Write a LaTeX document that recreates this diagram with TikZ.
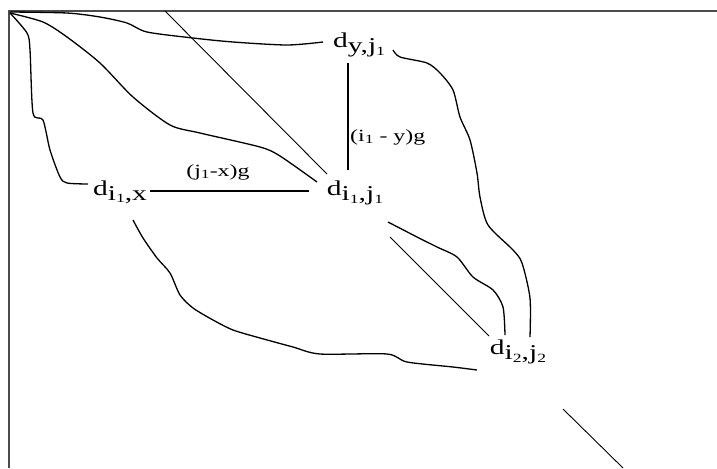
\documentclass[tikz,border=0pt]{standalone}
\usepackage{fontspec}
\setmainfont{Liberation Serif}
\usepackage{graphicx}
\usepackage{tikz}
\usetikzlibrary{calc}
\newcommand{\lowtxt}[1]{\raisebox{-0.22em}{#1}}
\newcommand{\idx}[1]{\raisebox{-0.14em}{\fontsize{12.5}{14}\selectfont #1}}
\newcommand{\wide}[1]{\scalebox{1.4}[1]{#1}}
\tikzset{
  cell/.style={font=\fontsize{21}{24}\selectfont, inner sep=0pt},
  cost/.style={font=\fontsize{17}{19}\selectfont, inner sep=0pt},
  trace/.style={line width=1.3pt, smooth, tension=0.45},
  edge/.style={line width=1.3pt},
  diag/.style={line width=0.9pt},
  frame/.style={line width=2pt, black!70}
}
\begin{document}
\begin{tikzpicture}[x=0.35mm, y=-0.35mm]
  \useasboundingbox (0,0) rectangle (717,468);
  % frame of the matrix
  \coordinate (corner) at (9,11);
  \draw[frame] (717,11) -- (corner) -- (9,468);
  \coordinate (entry) at (165,11);
  \coordinate (exit) at (623,468);
  % cells
  \node[cell] (dyj1) at (359,45) {\wide{d\lowtxt{y,j\idx{1}}}};
  \node[cell] (di1j1) at (355,193) {\wide{d\lowtxt{i\idx{1},j\idx{1}}}};
  \node[cell] (di1x) at (120,192) {\wide{d\lowtxt{i\idx{1},x}}};
  \node[cell] (di2j2) at (518,352) {\wide{d\lowtxt{i\idx{2},j\idx{2}}}};
  % gap costs
  \draw[edge] ($(di1x)+(30,-1)$) -- ($(di1j1)+(-46,-2)$);
  \node[cost] (hcost) at (218,172) {\wide{(j\idx{1}-x)g}};
  \draw[edge] ($(dyj1)+(-11,18)$) -- ($(di1j1)+(-7,-23)$);
  \node[cost, anchor=west] (vcost) at (350,137) {\wide{(i\idx{1} - y)g}};
  % main diagonal
  \draw[diag] (entry) -- ($(di1j1)+(-28,-19)$);
  \draw[diag] ($(di1j1)+(35,44)$) -- ($(di2j2)+(-29,-16)$);
  \draw[diag] ($(di2j2)+(45,57)$) -- (exit);
  % alignment paths
  \draw[trace] plot coordinates {(10,12) (67,13) (100,17) (127,23) (147,32)
    (193,38) (233,42) (287,45) ($(dyj1)+(-36,-3)$)};
  \draw[trace] plot coordinates {(10,13) (43,22) (67,37) (100,63) (133,97)
    (170,125) (200,133) (260,147) (280,156) ($(di1j1)+(-38,-11)$)};
  \draw[trace] plot coordinates {(10,13) (27,33) (30,50) (33,113) (43,120)
    (50,150) (60,177) (67,183) ($(di1x)+(-32,-8)$)};
  \draw[trace] plot coordinates {($(di1x)+(13,28)$) (143,238) (157,258)
    (170,273) (180,295) (193,308) (213,320) (233,330) (260,338) (293,347)
    (320,354) (387,354) (407,362) (453,367) ($(di2j2)+(-41,18)$)};
  \draw[trace] plot coordinates {($(di1j1)+(33,29)$) (417,237) (437,247)
    (457,257) (473,277) (493,290) (503,307) ($(di2j2)+(-13,-17)$)};
  \draw[trace] plot coordinates {($(dyj1)+(34,5)$) (400,57) (427,63) (440,73)
    (453,90) (460,117) (470,140) (477,173) (480,197) (488,225) (513,250)
    (522,263) (530,298) ($(di2j2)+(12,-15)$)};
\end{tikzpicture}
\end{document}
